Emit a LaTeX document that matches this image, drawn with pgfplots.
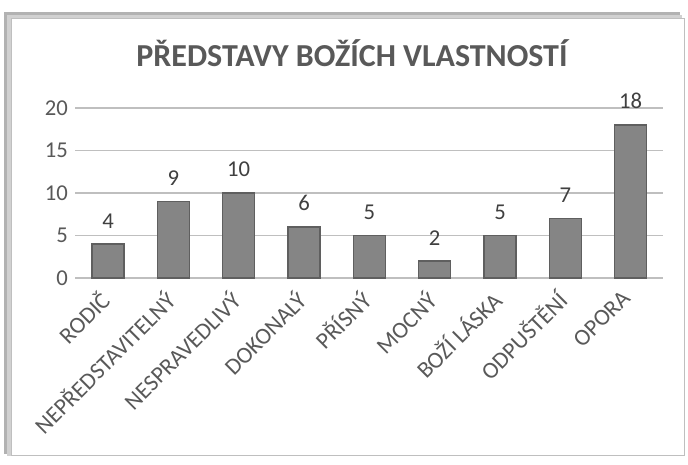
\documentclass[border=0pt]{standalone}
\usepackage{fontspec}
\setmainfont{Carlito}
\usepackage{pgfplots}
\pgfplotsset{compat=1.18}
\definecolor{txt}{HTML}{595959}
\definecolor{lbl}{HTML}{404040}
\definecolor{grid}{HTML}{D9D9D9}
\definecolor{barmid}{HTML}{858585}
\definecolor{baredge}{HTML}{5F5F5F}
\begin{document}
\begin{tikzpicture}[x=0.75pt,y=0.75pt]
% page bounds (image px, y up)
\path (0,0) rectangle (688,464);
% chart frame with a soft shadow on the left and top
\fill[black!30] (4,10) rectangle (680,452);
\fill[black!18] (7,8) rectangle (682,449);
\fill[white] (11,9) rectangle (684,446);
\draw[black!25] (11,9) rectangle (684,446);
\node[font=\fontsize{24}{28}\selectfont\bfseries, text=txt] at (352,411) {PŘEDSTAVY BOŽÍCH VLASTNOSTÍ};
\begin{axis}[
  at={(81pt,139.5pt)}, anchor=origin,
  width=441pt, height=127.5pt, scale only axis,
  xmin=-0.5, xmax=8.5, ymin=0, ymax=20,
  ytick={0,5,10,15,20},
  xtick={0,...,8},
  xticklabels={RODIČ,NEPŘEDSTAVITELNÝ,NESPRAVEDLIVÝ,DOKONALÝ,PŘÍSNÝ,MOCNÝ,BOŽÍ LÁSKA,ODPUŠTĚNÍ,OPORA},
  x tick label style={xshift=-7.5pt, yshift=-5pt, rotate=45, anchor=north east,
    font=\fontsize{17.5}{20}\selectfont, text=txt, inner sep=2pt},
  y tick label style={font=\fontsize{17}{20}\selectfont, text=txt},
  /pgf/number format/assume math mode=true,
  ymajorgrids, xmajorgrids=false, grid style={grid, line width=1pt},
  axis line style={draw=none},
  tick style={draw=none}, major tick length=0pt,
  yticklabel style={xshift=-2pt},
  clip=false,
]
\addplot[ybar, bar width=24pt, fill=barmid, draw=baredge, line width=1.2pt,
  nodes near coords, every node near coord/.append style={font=\fontsize{17}{20}\selectfont, text=lbl, yshift=8pt}]
  coordinates {(0,4) (1,9) (2,10) (3,6) (4,5) (5,2) (6,5) (7,7) (8,18)};
\end{axis}
\end{tikzpicture}
\end{document}
